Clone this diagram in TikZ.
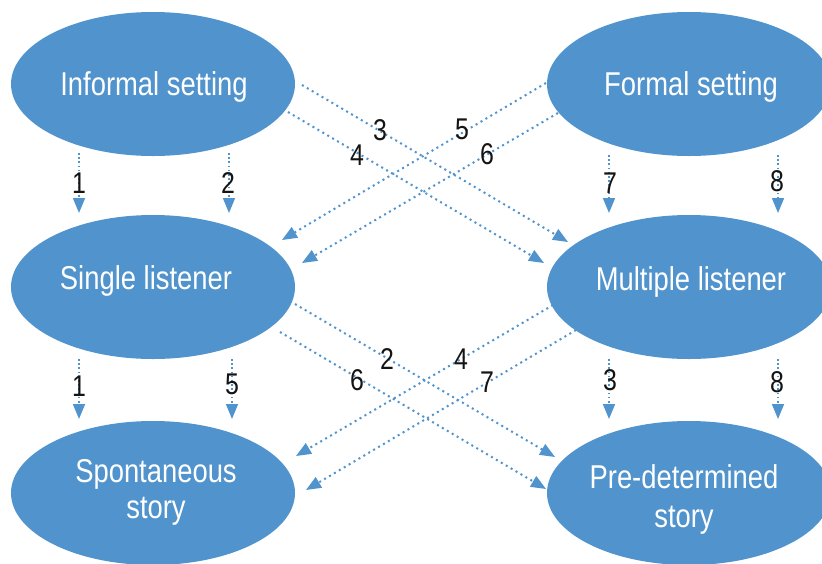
\documentclass[tikz,border=0pt]{standalone}
\usepackage{fontspec}
\setmainfont[FakeStretch=0.83]{Liberation Sans}
\usetikzlibrary{arrows.meta,calc,shapes.geometric}
\definecolor{ovalblue}{RGB}{80,147,205}
\definecolor{ink}{RGB}{20,20,20}
\begin{document}
\begin{tikzpicture}[x=1pt,y=-1pt,
  oval/.style={shape=ellipse,fill=ovalblue,draw=none,inner sep=0pt,
    minimum width=284pt,minimum height=144pt},
  caption/.style={text=white,font=\fontsize{33}{37}\selectfont,inner sep=0pt,align=center},
  num/.style={text=ink,font=\fontsize{30}{30}\selectfont,inner sep=0pt},
  link/.style={draw=ovalblue,line width=2pt,dash pattern=on 2pt off 3.7pt,
    -{Triangle[length=15pt,width=12pt]}},
  drop/.style={link,line width=1.6pt,dash pattern=on 1.6pt off 2.6pt}]
\useasboundingbox (0,0) rectangle (822,563);

% the six ovals
\node[oval] (inf) at (153,84) {};
\node[oval] (frm) at (689,84) {};
\node[oval] (sgl) at (153,287) {};
\node[oval] (mul) at (689,287) {};
\node[oval] (spo) at (153,493) {};
\node[oval] (pre) at (689,493) {};

% captions (anchor=base sits on the last line)
\node[caption,anchor=base] (infT) at (154,95) {Informal setting};
\node[caption,anchor=base] (frmT) at (691,95) {Formal setting};
\node[caption,anchor=base] (sglT) at (146,289) {Single listener};
\node[caption,anchor=base] (mulT) at (691,290) {Multiple listener};
\node[caption,anchor=base,font=\fontsize{33}{36}\selectfont] (spoT) at (156,518) {Spontaneous\\story};
\node[caption,anchor=base,font=\fontsize{33}{39}\selectfont] (preT) at (684,527) {Pre-determined\\story};

% vertical links, top row to middle row
\draw[drop] ($(inf.center)+(-74,69)$) -- ($(sgl.center)+(-74,-74)$);
\draw[drop] ($(inf.center)+(76,69)$) -- ($(sgl.center)+(76,-74)$);
\draw[drop] ($(frm.center)+(-80,71)$) -- ($(mul.center)+(-80,-74)$);
\draw[drop] ($(frm.center)+(89,71)$) -- ($(mul.center)+(89,-74)$);
% vertical links, middle row to bottom row
\draw[drop] ($(sgl.center)+(-74,72)$) -- ($(spo.center)+(-74,-74)$);
\draw[drop] ($(sgl.center)+(79,72)$) -- ($(spo.center)+(79,-74)$);
\draw[drop] ($(mul.center)+(-80,72)$) -- ($(pre.center)+(-80,-74)$);
\draw[drop] ($(mul.center)+(89,72)$) -- ($(pre.center)+(89,-74)$);

% crossing links, upper band
\draw[link] ($(inf.center)+(149,1)$) -- ($(mul.center)+(-121,-45)$);
\draw[link] ($(inf.center)+(135,28)$) -- ($(mul.center)+(-145,-24)$);
\draw[link] ($(frm.center)+(-143,-1)$) -- ($(sgl.center)+(129,-47)$);
\draw[link] ($(frm.center)+(-131,29)$) -- ($(sgl.center)+(149,-24)$);
% crossing links, lower band
\draw[link] ($(sgl.center)+(142,17)$) -- ($(pre.center)+(-134,-36)$);
\draw[link] ($(sgl.center)+(127,45)$) -- ($(pre.center)+(-143,-4)$);
\draw[link] ($(mul.center)+(-136,18)$) -- ($(spo.center)+(143,-37)$);
\draw[link] ($(mul.center)+(-113,43)$) -- ($(spo.center)+(153,-3)$);

% path numbers
\node[num] (n1a) at (79,183) {1};
\node[num] (n2a) at (228,183) {2};
\node[num] (n7a) at (610,183) {7};
\node[num] (n8a) at (777,181) {8};
\node[num] (n3b) at (380,130) {3};
\node[num] (n4b) at (357,155) {4};
\node[num] (n5b) at (462,129) {5};
\node[num] (n6b) at (487,154) {6};
\node[num] (n1c) at (79,386) {1};
\node[num] (n5c) at (232,384) {5};
\node[num] (n3c) at (610,380) {3};
\node[num] (n8c) at (777,382) {8};
\node[num] (n2d) at (387,359) {2};
\node[num] (n6d) at (357,380) {6};
\node[num] (n4d) at (461,359) {4};
\node[num] (n7d) at (487,382) {7};
\end{tikzpicture}
\end{document}
